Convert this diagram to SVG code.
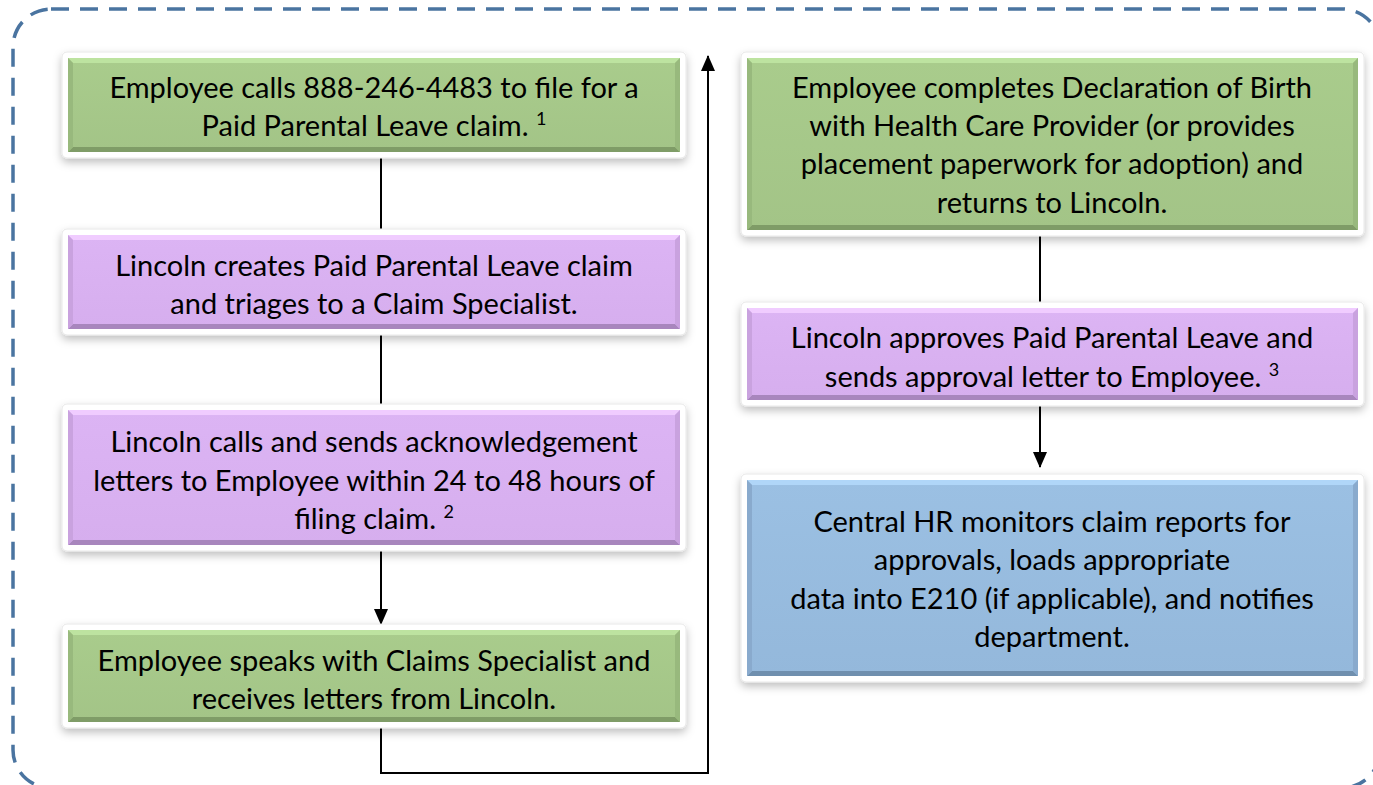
<svg xmlns="http://www.w3.org/2000/svg" width="1373" height="785" viewBox="0 0 1373 785">
<defs>
<filter id="sh" x="-5%" y="-10%" width="110%" height="130%">
<feDropShadow dx="0" dy="4" stdDeviation="4" flood-color="#000" flood-opacity="0.25"/>
</filter>
<marker id="ah" markerWidth="16" markerHeight="14" refX="15" refY="7" orient="auto" markerUnits="userSpaceOnUse" viewBox="0 0 16 14">
<path d="M0,0 L16,7 L0,14 z" fill="#000"/>
</marker>
<linearGradient id="gG" x1="0" y1="0" x2="0" y2="1"><stop offset="0" stop-color="#a9cc8c"/><stop offset="1" stop-color="#a3c487"/></linearGradient>
<linearGradient id="gP" x1="0" y1="0" x2="0" y2="1"><stop offset="0" stop-color="#dcb4f4"/><stop offset="1" stop-color="#d6aeee"/></linearGradient>
<linearGradient id="gB" x1="0" y1="0" x2="0" y2="1"><stop offset="0" stop-color="#9bc0e3"/><stop offset="1" stop-color="#94b8db"/></linearGradient>
</defs>
<style>
.frame{fill:#fff;stroke:#e8e8e8;stroke-width:1;filter:url(#sh)}
.g{fill:url(#gG)} .p{fill:url(#gP)} .b{fill:url(#gB)}
.gt{fill:#bde3a0} .gb{fill:#7f9c67} .gs{fill:#98b97d}
.pt{fill:#f0ccff} .pb{fill:#a886bd} .ps{fill:#c9a2df}
.bt{fill:#b0d6f8} .bb{fill:#6f8fae} .bs{fill:#89aacd}
text{font-family:Lato,"Open Sans",sans-serif;font-size:29px;fill:#000;text-anchor:middle}
.sup{font-size:18px}
.conn{fill:none;stroke:#000;stroke-width:2}
.border{fill:none;stroke:#4a74a0;stroke-width:3.5;stroke-dasharray:18 11}
</style>
<rect class="border" x="13" y="9" width="1367" height="779" rx="38"/>
<g id="connectors">
<line class="conn" x1="381" y1="158" x2="381" y2="229"/>
<line class="conn" x1="381" y1="335" x2="381" y2="404"/>
<line class="conn" x1="381" y1="551" x2="381" y2="624" marker-end="url(#ah)"/>
<polyline class="conn" points="381,728 381,773 708,773 708,56" marker-end="url(#ah)"/>
<line class="conn" x1="1040" y1="236" x2="1040" y2="302"/>
<line class="conn" x1="1040" y1="406" x2="1040" y2="467" marker-end="url(#ah)"/>
</g>
<g id="n1">
<rect class="frame" x="62" y="52" width="624" height="106" rx="5"/>
<rect class="g" x="68" y="58" width="612" height="94"/>
<polygon class="gt" points="68,58 680,58 675,63 73,63"/>
<polygon class="gb" points="68,152 680,152 675,147 73,147"/>
<polygon class="gs" points="68,58 73,63 73,147 68,152"/>
<polygon class="gs" points="680,58 675,63 675,147 680,152"/>
<text x="374" y="98">Employee calls 888-246-4483 to file for a</text>
<text x="374" y="136">Paid Parental Leave claim. <tspan class="sup" dy="-11">1</tspan></text>
</g>
<g id="n2">
<rect class="frame" x="62" y="229" width="624" height="106" rx="5"/>
<rect class="p" x="68" y="235" width="612" height="94"/>
<polygon class="pt" points="68,235 680,235 675,240 73,240"/>
<polygon class="pb" points="68,329 680,329 675,324 73,324"/>
<polygon class="ps" points="68,235 73,240 73,324 68,329"/>
<polygon class="ps" points="680,235 675,240 675,324 680,329"/>
<text x="374" y="276">Lincoln creates Paid Parental Leave claim</text>
<text x="374" y="314">and triages to a Claim Specialist.</text>
</g>
<g id="n3">
<rect class="frame" x="62" y="404" width="624" height="147" rx="5"/>
<rect class="p" x="68" y="410" width="612" height="135"/>
<polygon class="pt" points="68,410 680,410 675,415 73,415"/>
<polygon class="pb" points="68,545 680,545 675,540 73,540"/>
<polygon class="ps" points="68,410 73,415 73,540 68,545"/>
<polygon class="ps" points="680,410 675,415 675,540 680,545"/>
<text x="374" y="452">Lincoln calls and sends acknowledgement</text>
<text x="374" y="491">letters to Employee within 24 to 48 hours of</text>
<text x="374" y="529">filing claim. <tspan class="sup" dy="-11">2</tspan></text>
</g>
<g id="n4">
<rect class="frame" x="62" y="624" width="624" height="104" rx="5"/>
<rect class="g" x="68" y="630" width="612" height="92"/>
<polygon class="gt" points="68,630 680,630 675,635 73,635"/>
<polygon class="gb" points="68,722 680,722 675,717 73,717"/>
<polygon class="gs" points="68,630 73,635 73,717 68,722"/>
<polygon class="gs" points="680,630 675,635 675,717 680,722"/>
<text x="374" y="671">Employee speaks with Claims Specialist and</text>
<text x="374" y="709">receives letters from Lincoln.</text>
</g>
<g id="n5">
<rect class="frame" x="741" y="52" width="623" height="184" rx="5"/>
<rect class="g" x="747" y="58" width="611" height="172"/>
<polygon class="gt" points="747,58 1358,58 1353,63 752,63"/>
<polygon class="gb" points="747,230 1358,230 1353,225 752,225"/>
<polygon class="gs" points="747,58 752,63 752,225 747,230"/>
<polygon class="gs" points="1358,58 1353,63 1353,225 1358,230"/>
<text x="1052" y="98">Employee completes Declaration of Birth</text>
<text x="1052" y="136">with Health Care Provider (or provides</text>
<text x="1052" y="174">placement paperwork for adoption) and</text>
<text x="1052" y="213">returns to Lincoln.</text>
</g>
<g id="n6">
<rect class="frame" x="741" y="302" width="623" height="104" rx="5"/>
<rect class="p" x="747" y="308" width="611" height="92"/>
<polygon class="pt" points="747,308 1358,308 1353,313 752,313"/>
<polygon class="pb" points="747,400 1358,400 1353,395 752,395"/>
<polygon class="ps" points="747,308 752,313 752,395 747,400"/>
<polygon class="ps" points="1358,308 1353,313 1353,395 1358,400"/>
<text x="1052" y="348">Lincoln approves Paid Parental Leave and</text>
<text x="1052" y="387">sends approval letter to Employee. <tspan class="sup" dy="-11">3</tspan></text>
</g>
<g id="n7">
<rect class="frame" x="741" y="474" width="623" height="208" rx="5"/>
<rect class="b" x="747" y="480" width="611" height="196"/>
<polygon class="bt" points="747,480 1358,480 1353,485 752,485"/>
<polygon class="bb" points="747,676 1358,676 1353,671 752,671"/>
<polygon class="bs" points="747,480 752,485 752,671 747,676"/>
<polygon class="bs" points="1358,480 1353,485 1353,671 1358,676"/>
<text x="1052" y="532">Central HR monitors claim reports for</text>
<text x="1052" y="570">approvals, loads appropriate</text>
<text x="1052" y="609">data into E210 (if applicable), and notifies</text>
<text x="1052" y="647">department.</text>
</g>
</svg>
